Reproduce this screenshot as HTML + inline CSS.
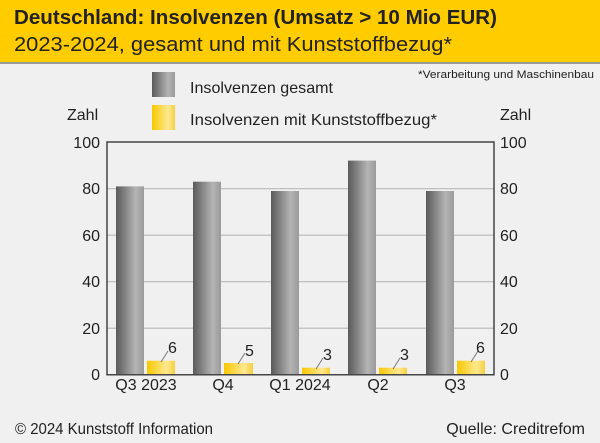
<!DOCTYPE html>
<html><head><meta charset="utf-8"><style>
html,body{margin:0;padding:0;background:#f0f0f0;}
svg{display:block;font-family:"Liberation Sans Narrow","Liberation Sans",sans-serif;}
</style></head><body>
<svg width="600" height="443" viewBox="0 0 600 443" xmlns="http://www.w3.org/2000/svg">
<defs>
<linearGradient id="g" x1="0" x2="1" y1="0" y2="0">
<stop offset="0" stop-color="#5a5a5a"/><stop offset="0.7" stop-color="#b4b4b4"/><stop offset="1" stop-color="#9a9a9a"/>
</linearGradient>
<linearGradient id="y" x1="0" x2="1" y1="0" y2="0">
<stop offset="0" stop-color="#f7c800"/><stop offset="0.7" stop-color="#ffe890"/><stop offset="1" stop-color="#f5d040"/>
</linearGradient>
</defs>
<rect x="0" y="0" width="600" height="443" fill="#f0f0f0"/>
<rect x="0" y="0" width="600" height="62" fill="#ffcc00"/>
<rect x="0" y="62" width="600" height="2" fill="#999"/>
<text x="14" y="24" font-size="20" font-weight="bold" fill="#222" textLength="483" lengthAdjust="spacingAndGlyphs">Deutschland: Insolvenzen (Umsatz &gt; 10 Mio EUR)</text>
<text x="14" y="51" font-size="20" fill="#222" textLength="438" lengthAdjust="spacingAndGlyphs">2023-2024, gesamt und mit Kunststoffbezug*</text>
<text x="418" y="78" font-size="11" fill="#222" textLength="176" lengthAdjust="spacingAndGlyphs">*Verarbeitung und Maschinenbau</text>
<rect x="152" y="72" width="23" height="25" fill="url(#g)"/>
<rect x="152" y="105" width="23" height="25" fill="url(#y)"/>
<text x="190" y="93" font-size="16" fill="#222" textLength="143" lengthAdjust="spacingAndGlyphs">Insolvenzen gesamt</text>
<text x="190" y="125" font-size="16" fill="#222" textLength="247" lengthAdjust="spacingAndGlyphs">Insolvenzen mit Kunststoffbezug*</text>
<text x="67" y="120" font-size="16" fill="#222">Zahl</text>
<text x="500" y="120" font-size="16" fill="#222">Zahl</text>
<g stroke="#b8b8b8" stroke-width="1.2">
<line x1="107" x2="494" y1="188.7" y2="188.7"/>
<line x1="107" x2="494" y1="235.2" y2="235.2"/>
<line x1="107" x2="494" y1="281.7" y2="281.7"/>
<line x1="107" x2="494" y1="328.2" y2="328.2"/>
</g>
<g font-size="16" fill="#222">
<text x="100" y="148" text-anchor="end">100</text>
<text x="100" y="194" text-anchor="end">80</text>
<text x="100" y="241" text-anchor="end">60</text>
<text x="100" y="287" text-anchor="end">40</text>
<text x="100" y="334" text-anchor="end">20</text>
<text x="100" y="380" text-anchor="end">0</text>
<text x="500" y="148">100</text>
<text x="500" y="194">80</text>
<text x="500" y="241">60</text>
<text x="500" y="287">40</text>
<text x="500" y="334">20</text>
<text x="500" y="380">0</text>
</g>
<rect x="116" y="186.4" width="28" height="188.3" fill="url(#g)"/>
<rect x="193" y="181.7" width="28" height="193" fill="url(#g)"/>
<rect x="271" y="191" width="28" height="183.7" fill="url(#g)"/>
<rect x="348" y="160.6" width="28" height="214" fill="url(#g)"/>
<rect x="426" y="191" width="28" height="183.7" fill="url(#g)"/>
<rect x="147" y="360.7" width="28" height="14" fill="url(#y)"/>
<rect x="224" y="363" width="29" height="11.7" fill="url(#y)"/>
<rect x="302" y="367.7" width="28" height="7" fill="url(#y)"/>
<rect x="379" y="367.7" width="28" height="7" fill="url(#y)"/>
<rect x="457" y="360.7" width="28" height="14" fill="url(#y)"/>
<path d="M107 142 H494 V374.7 H107 Z" fill="none" stroke="#444" stroke-width="1.5"/>
<g stroke="#777" stroke-width="1">
<line x1="161" y1="362" x2="168" y2="351"/>
<line x1="238" y1="364" x2="245" y2="353"/>
<line x1="316" y1="369" x2="323" y2="358"/>
<line x1="393" y1="369" x2="400" y2="358"/>
<line x1="471" y1="362" x2="478" y2="351"/>
</g>
<g font-size="16" fill="#222">
<text x="168" y="353">6</text>
<text x="245" y="356">5</text>
<text x="323" y="360">3</text>
<text x="400" y="360">3</text>
<text x="476" y="353">6</text>
</g>
<g font-size="16" fill="#222" text-anchor="middle">
<text x="146" y="390">Q3 2023</text>
<text x="223" y="390">Q4</text>
<text x="300" y="390">Q1 2024</text>
<text x="378" y="390">Q2</text>
<text x="455" y="390">Q3</text>
</g>
<text x="15" y="434" font-size="16" fill="#222" textLength="198" lengthAdjust="spacingAndGlyphs">© 2024 Kunststoff Information</text>
<text x="585" y="434" font-size="16" fill="#222" text-anchor="end">Quelle: Creditrefom</text>
</svg>
</body></html>
